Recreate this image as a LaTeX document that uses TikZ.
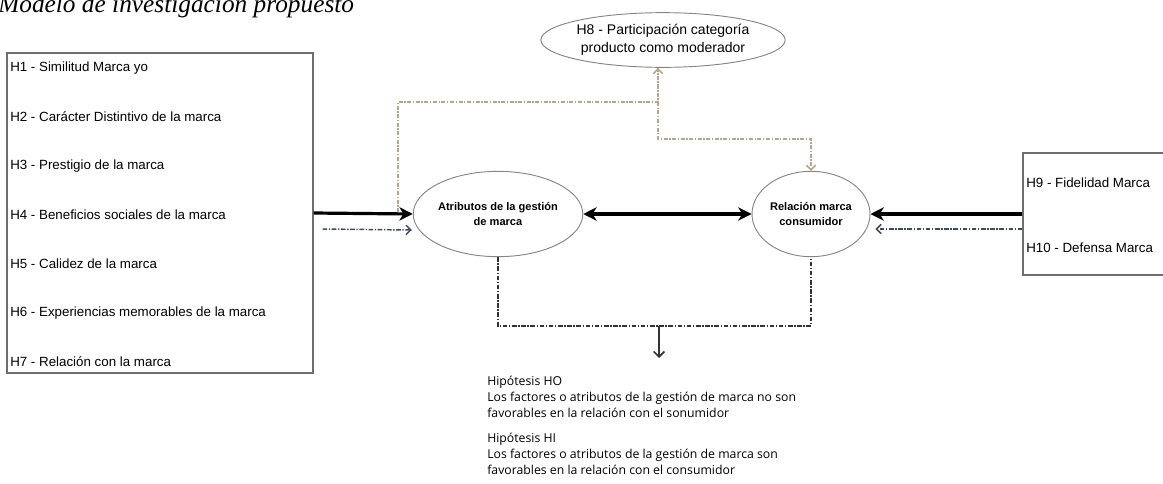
\documentclass[tikz,border=0pt]{standalone}
\usepackage{fontspec}
\setmainfont{Liberation Sans}
\newfontfamily\titlefont{Liberation Serif}
\newfontfamily\hypfont{Open Sans}
\usetikzlibrary{shapes.geometric,arrows.meta,calc}
\definecolor{modcol}{HTML}{B7A58C}
\definecolor{navcol}{HTML}{3C4B5F}
\definecolor{bordcol}{HTML}{6E6E6E}
\definecolor{ellcol}{HTML}{858585}
\definecolor{botcol}{HTML}{333333}
\tikzset{
  boxnode/.style={draw=bordcol, line width=0.8pt, rectangle, inner sep=0pt},
  ellnode/.style={draw=ellcol, line width=0.7pt, ellipse, inner sep=0pt, align=center},
  lbl/.style={anchor=west, inner sep=0pt, font=\fontsize{10}{12}\selectfont},
  mainarrow/.style={line width=2.4pt, -{Stealth[length=10pt,width=10pt,inset=3pt]}},
  bothway/.style={line width=2.4pt, {Stealth[length=10pt,width=10pt,inset=3pt]}-{Stealth[length=10pt,width=10pt,inset=3pt]}},
  dashnav/.style={draw=navcol, line width=1.1pt, dash pattern=on 3.5pt off 1.2pt on 1pt off 1.2pt, -{Straight Barb[length=3.5pt,width=7pt]}},
  modline/.style={draw=modcol, line width=1.2pt, dash pattern=on 3pt off 1.2pt on 1pt off 1.2pt, -{Straight Barb[length=3.5pt,width=7pt]}},
  botline/.style={draw=botcol, line width=1.4pt, dash pattern=on 3.5pt off 1.2pt on 1pt off 1.2pt},
  botarrow/.style={draw=botcol, line width=1.3pt, -{Straight Barb[length=4pt,width=8pt]}},
  hyp/.style={anchor=north west, inner sep=0pt, align=left, font=\hypfont\fontsize{9.2}{12}\selectfont}
}
\begin{document}
\begin{tikzpicture}[x=0.75pt,y=-0.75pt]
\useasboundingbox (0,0) rectangle (1163,483);

% title (cut at the top, as in the reference)
\node[anchor=base west, inner sep=0pt, font=\titlefont\itshape\fontsize{19}{22}\selectfont] (title) at (-2,12) {Modelo de investigación propuesto};

% left box
\node[boxnode, minimum width=229.5pt, minimum height=240pt] (left) at (160,213) {};
\node[lbl] (h1) at (10,68) {H1 - Similitud Marca yo};
\node[lbl] (h2) at (10,117) {H2 - Carácter Distintivo de la marca};
\node[lbl] (h3) at (10,166) {H3 - Prestigio de la marca};
\node[lbl] (h4) at (10,215) {H4 - Beneficios sociales de la marca};
\node[lbl] (h5) at (10,264) {H5 - Calidez de la marca};
\node[lbl] (h6) at (10,313) {H6 - Experiencias memorables de la marca};
\node[lbl] (h7) at (10,362) {H7 - Relación con la marca};

% right box
\node[boxnode, minimum width=106.5pt, minimum height=91.5pt] (rbox) at (1094,214) {};
\node[lbl] (h9) at (1026,183) {H9 - Fidelidad Marca};
\node[lbl] (h10) at (1026,248) {H10 - Defensa Marca};

% ellipses
\node[ellnode, minimum width=167pt, minimum height=41pt, font=\fontsize{10.5}{13.5}\selectfont] (h8) at (663,40) {H8 - Participación categoría\\producto como moderador};
\node[ellnode, minimum width=103.5pt, minimum height=64pt, font=\bfseries\fontsize{8.3}{11.25}\selectfont] (atrib) at (498,214) {Atributos de la gestión\\de marca};
\node[ellnode, minimum width=88.5pt, minimum height=64pt, font=\bfseries\fontsize{8.3}{11.25}\selectfont] (rel) at (811,214) {Relación marca\\consumidor};

% moderator connectors
\draw[modline] (left.east) -- (398,213) |- (658,102) -- (658,102 |- h8.south);
\draw[modline] (658,102 |- h8.south) -- (658,139) -| (rel.north);

% main arrows
\draw[mainarrow] (left.east) -- (atrib.west);
\draw[bothway] (atrib.east) -- (rel.west);
\draw[mainarrow] (rbox.west) -- (rel.east);

% dashed arrows
\draw[dashnav] ($(left.east)+(9,16)$) -- ($(atrib.west)+(-1,16)$);
\draw[dashnav] ($(rbox.west)+(0,15)$) -- ($(rel.east)+(5,15)$);

% bottom connector
\coordinate (merge) at (659,326);
\coordinate (hyptop) at (659,358);
\draw[botline] (atrib.south) |- (merge) -| (rel.south);
\draw[botarrow] (merge) -- (hyptop);

% hypotheses
\node[hyp] (ho) at (487,376) {Hipótesis HO\\Los factores o atributos de la gestión de marca no son\\favorables en la relación con el sonumidor};
\node[hyp] (hi) at (487,433) {Hipótesis HI\\Los factores o atributos de la gestión de marca son\\favorables en la relación con el consumidor};
\end{tikzpicture}
\end{document}
